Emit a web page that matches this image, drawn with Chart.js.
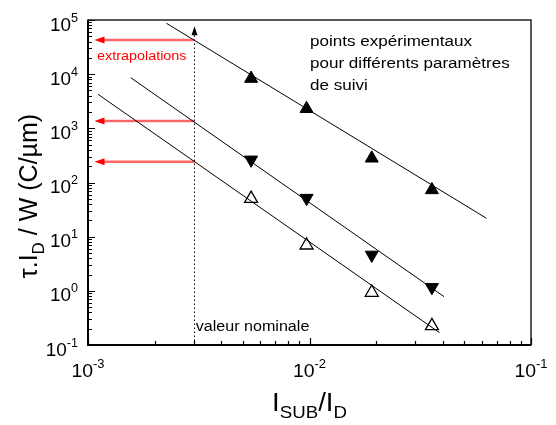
<!DOCTYPE html>
<html>
<head>
<meta charset="utf-8">
<script src="https://cdn.jsdelivr.net/npm/chart.js@4.4.1/dist/chart.umd.min.js"></script>
<style>
html, body { margin: 0; background: #fff; }
#wrap { width: 556px; height: 425px; }
</style>
</head>
<body>
<div id="wrap"><canvas id="chart"></canvas></div>
<script>
// measured points (I_SUB/I_D, tau.I_D/W)
const expX = [0.00545, 0.0097, 0.0191, 0.0357];
const upFilled = [8300, 2300, 280, 73];
const downFilled = [262, 51.5, 4.6, 1.16];
const upOpen = [50.4, 6.95, 0.93, 0.225];

// fitted lines, [start, end] as [x, y]
const fitHigh = [[0.00226, 87000], [0.063, 21.8]];
const fitMid = [[0.00156, 8600], [0.0405, 0.78]];
const fitLow = [[0.00111, 4250], [0.0386, 0.169]];

// extrapolation arrows and nominal value
const nominalX = 0.003;
const nominalTop = 77000;
const extrapY = [42700, 1365, 242];
const extrapToX = 0.00107;

// axis decades (exponents)
const xExps = [-3, -2, -1];
const yExps = [-1, 0, 1, 2, 3, 4, 5];

const FONT = '"Liberation Sans", Arial, sans-serif';

function pts(xs, ys) { return xs.map((x, i) => ({ x: x, y: ys[i] })); }
function seg(s) { return s.map(p => ({ x: p[0], y: p[1] })); }

function drawRuns(ctx, runs, x, y, align, sx) {
    ctx.save();
    ctx.translate(x, y);
    ctx.scale(sx || 1, 1);
    let w = 0;
    runs.forEach(r => { ctx.font = r.size + 'px ' + FONT; r.w = ctx.measureText(r.t).width; w += r.w; });
    let cx = align === 'center' ? -w / 2 : (align === 'right' ? -w : 0);
    ctx.textAlign = 'left';
    ctx.textBaseline = 'alphabetic';
    runs.forEach(r => { ctx.font = r.size + 'px ' + FONT; ctx.fillText(r.t, cx, r.dy || 0); cx += r.w; });
    ctx.restore();
}

function pow10(e) { return [{ t: '10', size: 18 }, { t: String(e), size: 12, dy: -9 }]; }

const decorations = {
    id: 'decorations',
    beforeDatasetsDraw(chart) {
        const ctx = chart.ctx, xs = chart.scales.x, ys = chart.scales.y;
        const a = chart.chartArea;
        ctx.save();
        // dotted nominal line
        const nx = Math.round(xs.getPixelForValue(nominalX)) + 0.5;
        const topY = ys.getPixelForValue(nominalTop);
        ctx.strokeStyle = '#000';
        ctx.lineWidth = 1;
        ctx.setLineDash([1.5, 2.5]);
        ctx.beginPath();
        ctx.moveTo(nx, a.bottom);
        ctx.lineTo(nx, topY + 6);
        ctx.stroke();
        ctx.setLineDash([]);
        ctx.fillStyle = '#000';
        ctx.beginPath();
        ctx.moveTo(nx, topY);
        ctx.lineTo(nx - 3, topY + 9);
        ctx.lineTo(nx + 3, topY + 9);
        ctx.closePath();
        ctx.fill();
        // red extrapolation arrows
        const tip = xs.getPixelForValue(extrapToX);
        extrapY.forEach(v => {
            const py = ys.getPixelForValue(v);
            ctx.strokeStyle = 'rgba(255,40,40,0.7)';
            ctx.lineWidth = 2.5;
            ctx.beginPath();
            ctx.moveTo(nx, py);
            ctx.lineTo(tip + 6, py);
            ctx.stroke();
            ctx.fillStyle = '#ff0000';
            ctx.beginPath();
            ctx.moveTo(tip, py);
            ctx.lineTo(tip + 10, py - 3.5);
            ctx.lineTo(tip + 10, py + 3.5);
            ctx.closePath();
            ctx.fill();
        });
        ctx.restore();
    },
    afterDraw(chart) {
        const ctx = chart.ctx, xs = chart.scales.x, ys = chart.scales.y;
        const a = chart.chartArea;
        ctx.save();
        ctx.strokeStyle = '#000';
        // frame
        ctx.lineWidth = 1.3;
        ctx.strokeRect(a.left, a.top, a.right - a.left, a.bottom - a.top);
        ctx.lineWidth = 2;
        ctx.beginPath();
        ctx.moveTo(a.left, a.top);
        ctx.lineTo(a.left, a.bottom);
        ctx.lineTo(a.right, a.bottom);
        ctx.stroke();
        // inward ticks
        ctx.lineWidth = 1.2;
        ctx.beginPath();
        yExps.forEach((e, i) => {
            for (let m = 1; m <= 9; m++) {
                if (m > 1 && i === yExps.length - 1) break;
                const py = Math.round(ys.getPixelForValue(m * Math.pow(10, e))) + 0.5;
                ctx.moveTo(a.left, py);
                ctx.lineTo(a.left + (m === 1 ? 7 : 4), py);
            }
        });
        xExps.forEach((e, i) => {
            for (let m = 1; m <= 9; m++) {
                if (m > 1 && i === xExps.length - 1) break;
                const px = Math.round(xs.getPixelForValue(m * Math.pow(10, e))) + 0.5;
                ctx.moveTo(px, a.bottom);
                ctx.lineTo(px, a.bottom - (m === 1 ? 7 : 4));
            }
        });
        ctx.stroke();
        // tick labels
        ctx.fillStyle = '#000';
        yExps.forEach(e => {
            const py = ys.getPixelForValue(Math.pow(10, e));
            drawRuns(ctx, pow10(e), 78, py + 10.5, 'right', 1.05);
        });
        xExps.forEach(e => {
            const px = xs.getPixelForValue(Math.pow(10, e));
            drawRuns(ctx, pow10(e), px, a.bottom + 32, 'center', 1.08);
        });
        // axis titles
        drawRuns(ctx, [
            { t: 'I', size: 25 }, { t: 'SUB', size: 17, dy: 7 },
            { t: '/I', size: 25 }, { t: 'D', size: 17, dy: 7 }
        ], (a.left + a.right) / 2, 411, 'center', 1.1);
        ctx.save();
        ctx.translate(37, 196);
        ctx.rotate(-Math.PI / 2);
        drawRuns(ctx, [
            { t: '\u03c4.I', size: 25 }, { t: 'D', size: 17, dy: 7 },
            { t: ' / W (C/\u00b5m)', size: 25 }
        ], 0, 0, 'center', 1);
        ctx.restore();
        // annotations
        const nx = xs.getPixelForValue(nominalX);
        drawRuns(ctx, [{ t: 'valeur nominale', size: 14 }], nx + 2, 331, 'left', 1.15);
        ctx.fillStyle = '#ff0000';
        drawRuns(ctx, [{ t: 'extrapolations', size: 12.5 }], 97, 60, 'left', 1.15);
        ctx.fillStyle = '#000';
        ['points exp\u00e9rimentaux', 'pour diff\u00e9rents param\u00e8tres', 'de suivi'].forEach((s, i) => {
            drawRuns(ctx, [{ t: s, size: 15.5 }], 310, 46 + i * 22, 'left', 1.1);
        });
        ctx.restore();
    }
};

const lineStyle = { type: 'line', showLine: true, borderColor: '#000', borderWidth: 1, pointRadius: 0, fill: false, tension: 0 };

new Chart(document.getElementById('chart'), {
    type: 'scatter',
    data: {
        datasets: [
            Object.assign({ data: seg(fitHigh) }, lineStyle),
            Object.assign({ data: seg(fitMid) }, lineStyle),
            Object.assign({ data: seg(fitLow) }, lineStyle),
            { data: pts(expX, upFilled), pointStyle: 'triangle', pointRadius: 7.5, backgroundColor: '#000', borderColor: '#000', borderWidth: 1 },
            { data: pts(expX, downFilled), pointStyle: 'triangle', rotation: 180, pointRadius: 7.5, backgroundColor: '#000', borderColor: '#000', borderWidth: 1 },
            { data: pts(expX, upOpen), pointStyle: 'triangle', pointRadius: 7.5, backgroundColor: '#fff', borderColor: '#000', borderWidth: 1.3 }
        ]
    },
    options: {
        responsive: true,
        maintainAspectRatio: false,
        animation: false,
        events: [],
        layout: { padding: { left: 88, right: 25, top: 20, bottom: 80 } },
        scales: {
            x: { type: 'logarithmic', min: 0.001, max: 0.1, display: false },
            y: { type: 'logarithmic', min: 0.1, max: 100000, display: false }
        },
        plugins: { legend: { display: false }, tooltip: { enabled: false } }
    },
    plugins: [decorations]
});
</script>
</body>
</html>
